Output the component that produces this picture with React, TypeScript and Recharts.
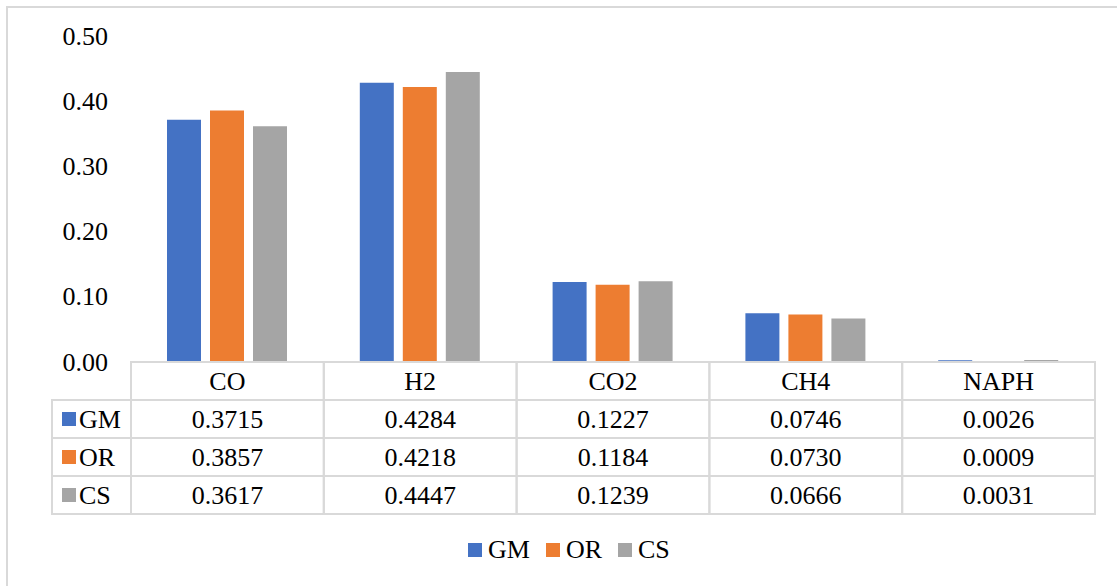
import { BarChart, Bar, XAxis, YAxis, Legend } from 'recharts';

const gases = ['CO', 'H2', 'CO2', 'CH4', 'NAPH'];
const gmValues = [0.3715, 0.4284, 0.1227, 0.0746, 0.0026];
const orValues = [0.3857, 0.4218, 0.1184, 0.073, 0.0009];
const csValues = [0.3617, 0.4447, 0.1239, 0.0666, 0.0031];
const yTicks = [0, 0.1, 0.2, 0.3, 0.4, 0.5];

const series = [
  { key: 'GM', values: gmValues, color: '#4472C4' },
  { key: 'OR', values: orValues, color: '#ED7D31' },
  { key: 'CS', values: csValues, color: '#A5A5A5' },
];

const data = gases.map((gas, i) => {
  const row: Record<string, string | number> = { gas };
  series.forEach((s) => {
    row[s.key] = s.values[i];
  });
  return row;
});

const W = 1117;
const H = 586;
const AXIS_W = 131;
const RIGHT = 22;
const COL_W = (W - AXIS_W - RIGHT) / gases.length;
const ROW_H = 38;
const LABEL_W = 79;
const FONT = '"Liberation Serif", "Times New Roman", serif';
const FONT_SIZE = 26;
const GRID = '#d9d9d9';

function YTick(props: any) {
  const { y, payload } = props;
  return (
    <text
      x={108}
      y={y}
      textAnchor="end"
      dominantBaseline="central"
      fontFamily={FONT}
      fontSize={FONT_SIZE}
      fill="#000"
    >
      {Number(payload.value).toFixed(2)}
    </text>
  );
}

// each x tick draws one column of the data table beneath the plot
function TableColumn(props: any) {
  const { x, y, payload, index } = props;
  const left = x - COL_W / 2;
  const rows = series.length + 1;
  const cells = [];

  cells.push(
    <rect key="box" x={left} y={y} width={COL_W} height={ROW_H * rows} fill="none" stroke={GRID} strokeWidth={2} />,
  );
  for (let r = 1; r < rows; r++) {
    cells.push(
      <line key={`h${r}`} x1={left} x2={left + COL_W} y1={y + ROW_H * r} y2={y + ROW_H * r} stroke={GRID} strokeWidth={2} />,
    );
  }
  cells.push(
    <text key="cat" x={x} y={y + ROW_H / 2} textAnchor="middle" dominantBaseline="central" fontFamily={FONT} fontSize={FONT_SIZE} fill="#000">
      {payload.value}
    </text>,
  );
  series.forEach((s, r) => {
    cells.push(
      <text
        key={`v${s.key}`}
        x={x}
        y={y + ROW_H * (r + 1.5)}
        textAnchor="middle"
        dominantBaseline="central"
        fontFamily={FONT}
        fontSize={FONT_SIZE}
        fill="#000"
      >
        {s.values[index].toFixed(4)}
      </text>,
    );
  });

  // series key column on the left of the table
  if (index === 0) {
    const lx = left - LABEL_W;
    cells.push(
      <rect key="lbox" x={lx} y={y + ROW_H} width={LABEL_W} height={ROW_H * series.length} fill="none" stroke={GRID} strokeWidth={2} />,
    );
    series.forEach((s, r) => {
      const cy = y + ROW_H * (r + 1.5);
      if (r > 0) {
        cells.push(
          <line key={`lh${r}`} x1={lx} x2={left} y1={y + ROW_H * (r + 1)} y2={y + ROW_H * (r + 1)} stroke={GRID} strokeWidth={2} />,
        );
      }
      cells.push(<rect key={`k${s.key}`} x={lx + 10} y={cy - 7} width={14} height={14} fill={s.color} />);
      cells.push(
        <text key={`l${s.key}`} x={lx + 27} y={cy} dominantBaseline="central" fontFamily={FONT} fontSize={FONT_SIZE} fill="#000">
          {s.key}
        </text>,
      );
    });
  }

  return <g>{cells}</g>;
}

function LegendRow() {
  return (
    <div
      style={{
        height: 72,
        display: 'flex',
        alignItems: 'center',
        paddingLeft: 468,
        fontFamily: FONT,
        fontSize: FONT_SIZE,
        color: '#000',
      }}
    >
      {series.map((s) => (
        <div key={s.key} style={{ display: 'flex', alignItems: 'center', marginRight: 16 }}>
          <span style={{ width: 14, height: 14, background: s.color, marginRight: 6, display: 'inline-block' }} />
          <span style={{ lineHeight: 1 }}>{s.key}</span>
        </div>
      ))}
    </div>
  );
}

export default function App() {
  return (
    <div style={{ position: 'absolute', left: 0, top: 0, width: W, height: H, overflow: 'hidden', background: '#fff' }}>
      <div
        style={{
          position: 'absolute',
          left: 6,
          top: 6,
          width: W + 20,
          height: H + 20,
          border: `2px solid ${GRID}`,
        }}
      />
      <BarChart
        width={W}
        height={H}
        data={data}
        margin={{ top: 36, right: RIGHT, bottom: 0, left: 0 }}
        barSize={34}
        barGap={9}
      >
        <XAxis
          dataKey="gas"
          height={ROW_H * 4}
          axisLine={false}
          tickLine={false}
          tickSize={0}
          tickMargin={0}
          interval={0}
          tick={(p: any) => <TableColumn {...p} />}
        />
        <YAxis
          width={AXIS_W}
          domain={[0, 0.5]}
          ticks={yTicks}
          axisLine={false}
          tickLine={false}
          tick={(p: any) => <YTick {...p} />}
        />
        <Legend verticalAlign="bottom" content={() => <LegendRow />} />
        {series.map((s) => (
          <Bar key={s.key} dataKey={s.key} fill={s.color} isAnimationActive={false} />
        ))}
      </BarChart>
    </div>
  );
}
